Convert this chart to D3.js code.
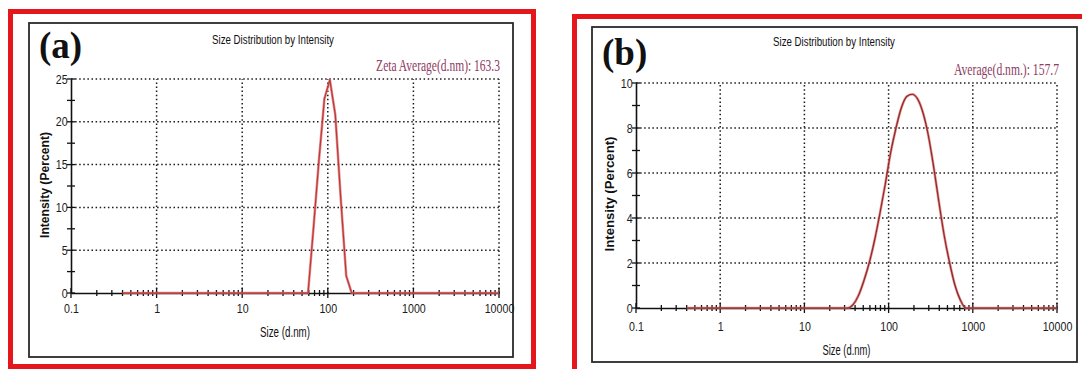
<!DOCTYPE html>
<html>
<head>
<meta charset="utf-8">
<script src="https://cdn.jsdelivr.net/npm/d3@7"></script>
<style>
  html, body { margin: 0; padding: 0; background: #fff; }
  svg { display: block; }
</style>
</head>
<body>
<svg id="chart" width="1082" height="369"></svg>
<script>
// ---- data -------------------------------------------------------------
const xTickValues = [0.1, 1, 10, 100, 1000, 10000];
const xTickLabels = ["0.1", "1", "10", "100", "1000", "10000"];
const minorMultipliers = [2, 3, 4, 5, 6, 7, 8, 9];

// Sample (a): size bins (d.nm) and intensity (%)
const sizesA     = [0.4, 50.75, 58.77, 68.06, 78.82, 91.28, 105.7, 122.4, 141.8, 164.2, 190.1, 220.2, 10000];
const intensityA = [0,   0,     0,     7.6,   15.5,  22.7,  24.9,  20.8,  11.0,  2.0,   0,     0,     0];
const yTicksA = [0, 5, 10, 15, 20, 25];
const yMinorA = [2.5, 7.5, 12.5, 17.5, 22.5];

// Sample (b): size bins (d.nm) and intensity (%)
const sizesB     = [0.4, 32.67, 37.84, 43.82, 50.75, 58.77, 68.06, 78.82, 91.28, 105.7, 122.4, 141.8, 164.2, 190.1, 220.2, 255.0, 295.3, 342.0, 396.1, 458.7, 531.2, 615.1, 712.4, 825.0, 10000];
const intensityB = [0,   0,     0.15,  0.55,  1.2,   2.0,   3.0,   4.2,   5.5,   6.9,   8.0,   8.9,   9.4,   9.5,   9.3,   8.7,   7.7,   6.3,   4.7,   3.2,   2.0,   1.0,   0.35,  0,     0];
const yTicksB = [0, 2, 4, 6, 8, 10];
const yMinorB = [1, 3, 5, 7, 9];

const panelLabels = ["(a)", "(b)"];
const chartTitles = ["Size Distribution by Intensity", "Size Distribution by Intensity"];
const averageNotes = ["Zeta Average(d.nm): 163.3", "Average(d.nm.): 157.7"];
const xTitle = "Size (d.nm)";
const yTitle = "Intensity (Percent)";

// ---- drawing ----------------------------------------------------------
const svg = d3.select("#chart");
const SANS = "'Liberation Sans', Arial, sans-serif";
const SERIF = "'Liberation Serif', 'Times New Roman', serif";
const FRAME_RED = "#e3171c";
const TICK_SQUEEZE = 0.82;

// Places a horizontally condensed text so that its drawn width equals `width`.
function condensedText(parent, str, px, py, width, anchor, attrs, rotate) {
  const t = parent.append("text").attr("x", 0).attr("y", 0)
    .attr("text-anchor", anchor).text(str);
  Object.entries(attrs).forEach(([k, v]) => t.attr(k, v));
  const natural = t.node().getComputedTextLength();
  const s = width / natural;
  const rot = rotate ? ` rotate(${rotate})` : "";
  t.attr("transform", `translate(${px},${py})${rot} scale(${s},1)`);
  return t;
}

function drawPanel(cfg) {
  const g = svg.append("g");

  // red outer frame and thin black inner frame
  g.append("rect")
    .attr("x", cfg.red[0]).attr("y", cfg.red[1])
    .attr("width", cfg.red[2]).attr("height", cfg.red[3])
    .attr("fill", "none").attr("stroke", FRAME_RED).attr("stroke-width", 5);
  g.append("rect")
    .attr("x", cfg.box[0]).attr("y", cfg.box[1])
    .attr("width", cfg.box[2]).attr("height", cfg.box[3])
    .attr("fill", "#fff").attr("stroke", "#2a2a2a").attr("stroke-width", 1.8);

  const x = d3.scaleLog().domain([0.1, 10000]).range([cfg.left, cfg.right]);
  const y = d3.scaleLinear().domain([0, cfg.yMax]).range([cfg.bottom, cfg.top]);

  // dotted grid
  const grid = g.append("g")
    .attr("stroke", "#1a1a1a").attr("stroke-width", 1.5)
    .attr("stroke-dasharray", "1.5,2.6");
  grid.selectAll(".vg").data(xTickValues.slice(1)).join("line")
    .attr("x1", d => x(d)).attr("x2", d => x(d))
    .attr("y1", y(0)).attr("y2", y(cfg.yMax));
  grid.selectAll(".hg").data(cfg.yTicks.slice(1)).join("line")
    .attr("x1", x(0.1)).attr("x2", x(10000))
    .attr("y1", d => y(d)).attr("y2", d => y(d));

  // x axis with labels
  const xAxis = d3.axisBottom(x)
    .tickValues(xTickValues)
    .tickFormat((d, i) => xTickLabels[i])
    .tickSize(0).tickPadding(cfg.xPad);
  const gx = g.append("g").attr("transform", `translate(0,${y(0)})`).call(xAxis);
  gx.attr("font-family", SANS).attr("font-size", 13);
  gx.select(".domain").attr("stroke", "#111").attr("stroke-width", 1.6);
  gx.selectAll("text").attr("fill", "#1a1a1a")
    .attr("transform", `scale(${TICK_SQUEEZE},1)`);

  // y axis with labels
  const yAxis = d3.axisLeft(y).tickValues(cfg.yTicks).tickSize(0).tickPadding(cfg.yPad);
  const gy = g.append("g").attr("transform", `translate(${x(0.1)},0)`).call(yAxis);
  gy.attr("font-family", SANS).attr("font-size", 13);
  gy.select(".domain").attr("stroke", "#111").attr("stroke-width", 1.6);
  gy.selectAll("text").attr("fill", "#1a1a1a")
    .attr("transform", `scale(${TICK_SQUEEZE},1)`);

  // tick marks crossing both axes
  const minorX = [];
  xTickValues.slice(0, -1).forEach(dec => minorMultipliers.forEach(m => minorX.push(dec * m)));
  const ticks = g.append("g").attr("stroke", "#111").attr("stroke-width", 1.3);
  ticks.selectAll(".xM").data(xTickValues).join("line")
    .attr("x1", d => x(d)).attr("x2", d => x(d))
    .attr("y1", y(0) - 5).attr("y2", y(0) + 5);
  ticks.selectAll(".xm").data(minorX).join("line")
    .attr("x1", d => x(d)).attr("x2", d => x(d))
    .attr("y1", y(0) - 3).attr("y2", y(0) + 3);
  ticks.selectAll(".yM").data(cfg.yTicks).join("line")
    .attr("x1", x(0.1) - 4).attr("x2", x(0.1) + 4)
    .attr("y1", d => y(d)).attr("y2", d => y(d));
  ticks.selectAll(".ym").data(cfg.yMinor).join("line")
    .attr("x1", x(0.1) - 4).attr("x2", x(0.1) + 4)
    .attr("y1", d => y(d)).attr("y2", d => y(d));

  // distribution curve
  const pts = cfg.sizes.map((s, i) => [s, cfg.values[i]]);
  const line = d3.line().x(d => x(d[0])).y(d => y(d[1])).curve(cfg.curve);
  g.append("path").datum(pts).attr("d", line)
    .attr("fill", "none").attr("stroke", "#e06a6a").attr("stroke-width", 2.6)
    .attr("stroke-opacity", 0.75).attr("stroke-linejoin", "round");
  g.append("path").datum(pts).attr("d", line)
    .attr("fill", "none").attr("stroke", cfg.lineColor).attr("stroke-width", 1.2)
    .attr("stroke-linejoin", "round");

  // texts
  g.append("text")
    .attr("x", cfg.labelPos[0]).attr("y", cfg.labelPos[1])
    .attr("font-family", SERIF).attr("font-weight", "bold").attr("font-size", 37)
    .attr("fill", "#111").text(cfg.label);
  condensedText(g, cfg.title, cfg.titlePos[0], cfg.titlePos[1], 122, "middle",
    { "font-family": SANS, "font-size": 13, "fill": "#111" });
  condensedText(g, cfg.note, cfg.notePos[0], cfg.notePos[1], cfg.noteLen, "end",
    { "font-family": SERIF, "font-size": 16.5, "fill": "#8e3c63" });
  condensedText(g, xTitle, (x(0.1) + x(10000)) / 2, cfg.xTitleY, cfg.xTitleLen, "middle",
    { "font-family": SANS, "font-size": 14, "fill": "#111" });
  condensedText(g, yTitle, cfg.yTitlePos[0], cfg.yTitlePos[1], cfg.yTitleLen, "middle",
    { "font-family": SANS, "font-weight": "bold", "font-size": 13, "fill": "#111" }, -90);
}

drawPanel({
  red: [10.5, 11.5, 523, 355],
  box: [29, 23, 484, 334],
  left: 71, right: 499, top: 79, bottom: 293,
  yMax: 25, yTicks: yTicksA, yMinor: yMinorA,
  xPad: 11, yPad: 4,
  sizes: sizesA, values: intensityA, curve: d3.curveLinear, lineColor: "#b83a3a",
  label: panelLabels[0], labelPos: [39, 58],
  title: chartTitles[0], titlePos: [273, 44],
  note: averageNotes[0], notePos: [500, 71], noteLen: 124,
  xTitleY: 337, xTitleLen: 50,
  yTitlePos: [49, 185], yTitleLen: 106
});

drawPanel({
  red: [574.5, 16.5, 530, 370],
  box: [592, 27, 485, 335],
  left: 636, right: 1057, top: 83, bottom: 308,
  yMax: 10, yTicks: yTicksB, yMinor: yMinorB,
  xPad: 14, yPad: 4,
  sizes: sizesB, values: intensityB, curve: d3.curveMonotoneX, lineColor: "#8a2a2a",
  label: panelLabels[1], labelPos: [602, 65],
  title: chartTitles[1], titlePos: [834, 46],
  note: averageNotes[1], notePos: [1059, 75], noteLen: 105,
  xTitleY: 355, xTitleLen: 48,
  yTitlePos: [614, 194], yTitleLen: 115
});
</script>
</body>
</html>
